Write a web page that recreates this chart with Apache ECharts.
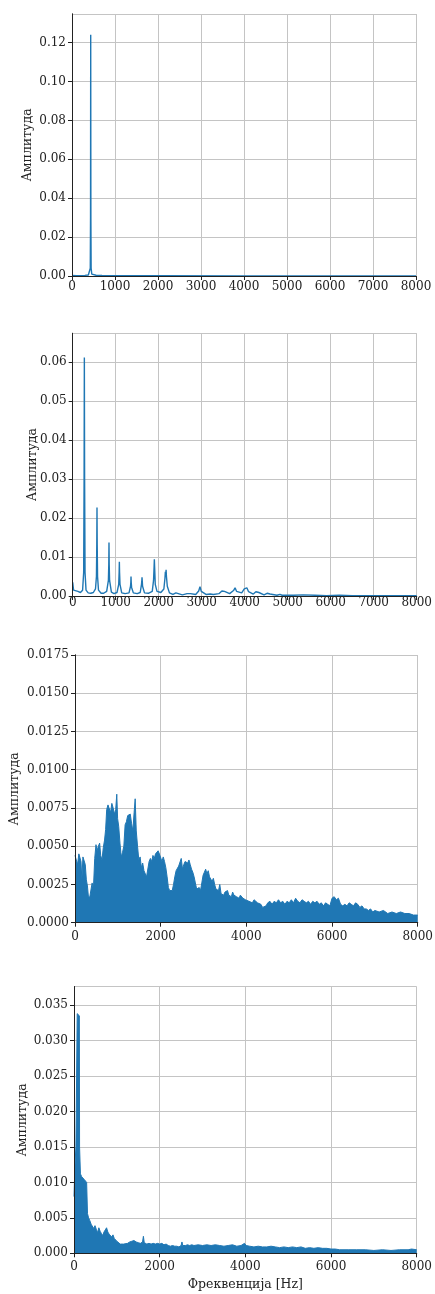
<!DOCTYPE html>
<html>
<head>
<meta charset="utf-8">
<script src="https://cdn.jsdelivr.net/npm/echarts@6/dist/echarts.min.js"></script>
<style>
  html, body { margin: 0; padding: 0; background: #ffffff; }
  #chart { width: 435px; height: 1294px; }
</style>
</head>
<body>
<div id="chart"></div>
<script>
// Spectrum 1: single pure tone
const freq1 = [0, 100, 200, 300, 380, 410, 425, 431, 435, 439, 445, 460, 490, 560, 700, 900, 1200, 2000, 4000, 8000];
const amp1  = [0.0003, 0.0002, 0.0002, 0.0003, 0.0005, 0.001, 0.004, 0.03, 0.124, 0.03, 0.004, 0.001, 0.0005, 0.0004, 0.0003, 0.0002, 0.0001, 0.0001, 0.00005, 0.00003];

// Spectrum 2: harmonic tone
const freq2 = [0, 20, 60, 120, 180, 230, 255, 265, 271, 277, 287, 310, 360, 420, 480, 530, 552, 560, 565, 570, 578, 600, 660, 720, 790, 830, 839, 844, 849, 858, 900, 960, 1030, 1070, 1080, 1085, 1090, 1100, 1140, 1220, 1310, 1345, 1352, 1356, 1361, 1370, 1410, 1500, 1570, 1600, 1608, 1612, 1617, 1625, 1670, 1760, 1850, 1880, 1893, 1899, 1905, 1920, 1960, 2050, 2120, 2145, 2155, 2162, 2172, 2180, 2200, 2250, 2330, 2400, 2420, 2440, 2550, 2660, 2700, 2740, 2860, 2930, 2960, 2990, 3100, 3200, 3230, 3270, 3400, 3470, 3500, 3530, 3650, 3740, 3776, 3810, 3930, 3990, 4020, 4050, 4090, 4200, 4260, 4295, 4330, 4450, 4520, 4550, 4590, 4750, 4820, 4870, 5050, 5093, 5140, 5360, 5400, 5630, 5900, 6200, 6500, 7000, 8000];
const amp2  = [0.0035, 0.0015, 0.0018, 0.0012, 0.0009, 0.0015, 0.006, 0.03, 0.0612, 0.03, 0.006, 0.0015, 0.0008, 0.0007, 0.0009, 0.0018, 0.005, 0.013, 0.0227, 0.013, 0.005, 0.0015, 0.0007, 0.0007, 0.0012, 0.004, 0.008, 0.0137, 0.008, 0.004, 0.001, 0.0006, 0.0009, 0.003, 0.006, 0.0088, 0.006, 0.003, 0.0008, 0.0006, 0.0008, 0.0025, 0.0035, 0.005, 0.0035, 0.0022, 0.0008, 0.0006, 0.0009, 0.003, 0.004, 0.0048, 0.004, 0.0025, 0.0008, 0.0007, 0.0012, 0.004, 0.0075, 0.0094, 0.0075, 0.003, 0.0012, 0.0009, 0.0018, 0.0045, 0.0062, 0.005, 0.0067, 0.005, 0.0025, 0.0008, 0.0004, 0.0008, 0.0011, 0.0007, 0.0003, 0.0006, 0.0011, 0.0006, 0.0004, 0.0013, 0.0024, 0.0012, 0.0004, 0.0005, 0.0007, 0.0004, 0.0006, 0.0013, 0.0017, 0.0012, 0.0006, 0.0014, 0.0021, 0.0012, 0.0008, 0.0018, 0.0015, 0.0021, 0.0011, 0.0005, 0.0011, 0.0014, 0.0009, 0.0003, 0.0007, 0.0009, 0.0005, 0.0002, 0.0004, 0.0002, 0.0002, 0.0004, 0.0002, 0.0003, 0.0001, 0.0002, 0.0001, 0.0002, 0.0001, 0.00005, 0.00005];

// Spectrum 3: broadband, upper envelope
const freq3 = [0, 30, 60, 90, 120, 140, 160, 185, 215, 240, 265, 290, 310, 340, 370, 400, 430, 460, 490, 515, 545, 575, 600, 630, 660, 690, 715, 740, 770, 800, 830, 860, 890, 920, 950, 975, 995, 1020, 1050, 1080, 1110, 1140, 1170, 1200, 1230, 1260, 1290, 1320, 1350, 1380, 1405, 1430, 1460, 1490, 1520, 1550, 1580, 1610, 1640, 1670, 1700, 1730, 1760, 1790, 1820, 1850, 1880, 1910, 1940, 1970, 2000, 2030, 2060, 2090, 2120, 2150, 2180, 2210, 2240, 2270, 2300, 2330, 2360, 2390, 2420, 2450, 2480, 2510, 2540, 2570, 2600, 2630, 2660, 2690, 2720, 2750, 2780, 2810, 2840, 2870, 2900, 2930, 2960, 2990, 3020, 3050, 3080, 3110, 3140, 3170, 3200, 3230, 3260, 3290, 3320, 3350, 3380, 3410, 3440, 3470, 3500, 3530, 3560, 3590, 3620, 3650, 3680, 3710, 3740, 3770, 3800, 3830, 3860, 3890, 3920, 3950, 3980, 4020, 4060, 4100, 4140, 4180, 4220, 4260, 4300, 4340, 4380, 4420, 4460, 4500, 4550, 4600, 4650, 4700, 4750, 4800, 4850, 4900, 4950, 5000, 5050, 5100, 5150, 5200, 5250, 5300, 5350, 5400, 5450, 5500, 5550, 5600, 5650, 5700, 5750, 5800, 5850, 5900, 5950, 6000, 6050, 6100, 6150, 6200, 6250, 6300, 6350, 6400, 6450, 6500, 6550, 6600, 6650, 6700, 6750, 6800, 6850, 6900, 6950, 7000, 7100, 7200, 7300, 7400, 7500, 7600, 7700, 7800, 7900, 8000];
const amp3  = [0.0044, 0.0043, 0.0038, 0.0045, 0.0046, 0.0040, 0.0028, 0.0043, 0.0044, 0.0038, 0.0028, 0.0024, 0.0018, 0.0016, 0.0017, 0.0026, 0.0022, 0.0042, 0.0051, 0.0047, 0.0050, 0.0052, 0.0044, 0.0041, 0.0049, 0.0054, 0.0061, 0.0074, 0.0077, 0.0078, 0.0072, 0.0078, 0.0075, 0.0071, 0.0074, 0.0084, 0.0068, 0.0063, 0.0052, 0.0043, 0.0046, 0.0050, 0.0064, 0.0066, 0.0070, 0.0069, 0.0071, 0.0065, 0.0060, 0.0072, 0.0081, 0.0060, 0.0050, 0.0041, 0.0043, 0.0036, 0.0039, 0.0034, 0.0035, 0.0030, 0.0031, 0.0040, 0.0042, 0.0040, 0.0044, 0.0042, 0.0045, 0.0046, 0.0047, 0.0045, 0.0044, 0.0040, 0.0043, 0.0040, 0.0036, 0.0030, 0.0023, 0.0021, 0.0022, 0.0021, 0.0025, 0.0030, 0.0034, 0.0033, 0.0037, 0.0036, 0.0042, 0.0035, 0.0038, 0.0040, 0.0041, 0.0039, 0.0041, 0.0038, 0.0035, 0.0033, 0.0030, 0.0026, 0.0022, 0.0021, 0.0023, 0.0021, 0.0026, 0.0031, 0.0033, 0.0035, 0.0032, 0.0034, 0.0030, 0.0031, 0.0027, 0.0029, 0.0025, 0.0022, 0.0023, 0.0021, 0.0025, 0.0019, 0.0020, 0.0018, 0.0020, 0.0019, 0.0021, 0.0018, 0.0019, 0.0017, 0.0020, 0.0018, 0.0019, 0.0017, 0.0018, 0.0016, 0.0018, 0.0017, 0.0016, 0.0017, 0.0015, 0.0016, 0.0014, 0.0015, 0.0013, 0.0015, 0.0014, 0.0013, 0.0014, 0.0012, 0.0010, 0.0009, 0.0011, 0.0013, 0.0014, 0.0012, 0.0014, 0.0013, 0.0015, 0.0013, 0.0014, 0.0012, 0.0014, 0.0013, 0.0015, 0.0013, 0.0016, 0.0014, 0.0013, 0.0015, 0.0014, 0.0013, 0.0014, 0.0012, 0.0014, 0.0013, 0.0014, 0.0012, 0.0013, 0.0011, 0.0013, 0.0012, 0.0011, 0.0016, 0.0017, 0.0015, 0.0016, 0.0012, 0.0011, 0.0012, 0.0011, 0.0013, 0.0012, 0.0011, 0.0013, 0.0012, 0.0010, 0.0011, 0.0009, 0.0009, 0.0008, 0.0009, 0.0007, 0.0008, 0.0007, 0.0008, 0.0006, 0.0007, 0.0006, 0.0007, 0.0006, 0.0006, 0.0005, 0.0005];

// Spectrum 4: low-frequency dominated, upper envelope
const freq4 = [0, 20, 45, 70, 75, 100, 125, 130, 150, 180, 210, 240, 270, 295, 315, 340, 370, 400, 430, 460, 490, 520, 550, 580, 610, 640, 670, 700, 730, 760, 790, 820, 850, 880, 910, 940, 970, 1000, 1040, 1080, 1120, 1160, 1200, 1250, 1300, 1350, 1400, 1450, 1500, 1550, 1600, 1620, 1640, 1700, 1750, 1800, 1850, 1900, 1950, 2000, 2050, 2100, 2150, 2200, 2250, 2300, 2350, 2400, 2450, 2500, 2520, 2540, 2600, 2650, 2700, 2750, 2800, 2900, 3000, 3100, 3200, 3300, 3400, 3500, 3600, 3700, 3800, 3900, 3980, 4020, 4100, 4200, 4300, 4400, 4500, 4600, 4700, 4800, 4900, 5000, 5100, 5200, 5300, 5400, 5500, 5600, 5700, 5800, 5900, 6000, 6100, 6200, 6400, 6600, 6800, 7000, 7200, 7400, 7600, 7800, 7880, 8000];
const amp4  = [0.0080, 0.0120, 0.0151, 0.0150, 0.0338, 0.0337, 0.0335, 0.0150, 0.0112, 0.0108, 0.0110, 0.0104, 0.0105, 0.0100, 0.0056, 0.0050, 0.0046, 0.0041, 0.0040, 0.0035, 0.0039, 0.0034, 0.0029, 0.0036, 0.0031, 0.0028, 0.0025, 0.0030, 0.0033, 0.0036, 0.0030, 0.0027, 0.0028, 0.0023, 0.0026, 0.0021, 0.0023, 0.0017, 0.0015, 0.0013, 0.0014, 0.0013, 0.0015, 0.0014, 0.0016, 0.0017, 0.0018, 0.0016, 0.0015, 0.0014, 0.0016, 0.0024, 0.0015, 0.0013, 0.0014, 0.0013, 0.0014, 0.0013, 0.0014, 0.0013, 0.0014, 0.0012, 0.0013, 0.0011, 0.0010, 0.0011, 0.0010, 0.0010, 0.0009, 0.0011, 0.0016, 0.0011, 0.0011, 0.0012, 0.0011, 0.0012, 0.0011, 0.0012, 0.0011, 0.0012, 0.0011, 0.0012, 0.0011, 0.0010, 0.0011, 0.0012, 0.0010, 0.0011, 0.0014, 0.0011, 0.0010, 0.0009, 0.0010, 0.0009, 0.0009, 0.0010, 0.0009, 0.0008, 0.0009, 0.0008, 0.0009, 0.0008, 0.0009, 0.0007, 0.0008, 0.0007, 0.0008, 0.0007, 0.0007, 0.0006, 0.0006, 0.0005, 0.0005, 0.0005, 0.0005, 0.0004, 0.0005, 0.0004, 0.0005, 0.0005, 0.0006, 0.0005];

const yLabel = 'Амплитуда';
const xLabel = 'Фреквенција [Hz]';

const FONT = 'DejaVu Serif';
const BLUE = '#1f77b4';
const INK = '#222222';
const GRID = '#c4c4c4';

// layout of the four panels; nameX is the centre of the rotated amplitude label
const panels = [
  { freq: freq1, amp: amp1, box: { left: 72, top: 14, width: 344, height: 262 }, xStep: 1000, yMax: 0.1347, yStep: 0.02, dec: 2, nameX: 28, xMargin: 5, fill: false, showTop: false },
  { freq: freq2, amp: amp2, box: { left: 72.7, top: 333.3, width: 344, height: 262.7 }, xStep: 1000, yMax: 0.0674, yStep: 0.01, dec: 2, nameX: 33, xMargin: 1, fill: false, showTop: false },
  { freq: freq3, amp: amp3, box: { left: 75, top: 655, width: 342.7, height: 267.7 }, xStep: 2000, yMax: 0.0175, yStep: 0.0025, dec: 4, nameX: 15, xMargin: 8, fill: true, showTop: true },
  { freq: freq4, amp: amp4, box: { left: 74, top: 986.7, width: 342.7, height: 266.6 }, xStep: 2000, yMax: 0.0376, yStep: 0.005, dec: 3, nameX: 23, xMargin: 8, fill: true, showTop: false, xName: xLabel }
];

const grid = [], xAxis = [], yAxis = [], series = [], graphic = [];
const labelStyle = { fontFamily: FONT, fontSize: 12, color: INK };
const lineOn = { show: true, lineStyle: { color: INK, width: 1 } };

panels.forEach((p, i) => {
  grid.push({
    left: p.box.left, top: p.box.top, width: p.box.width, height: p.box.height,
    containLabel: false, outerBoundsMode: 'none'
  });
  const xBase = { type: 'value', gridIndex: i, min: 0, max: 8000, interval: p.xStep };
  const yBase = { type: 'value', gridIndex: i, min: 0, max: p.yMax, interval: p.yStep };
  const off = { axisLine: { show: false }, axisTick: { show: false }, axisLabel: { show: false } };

  // grid lines under the data
  xAxis.push(Object.assign({}, xBase, off, { position: 'bottom', splitLine: { show: true, lineStyle: { color: GRID, width: 1 } } }));
  yAxis.push(Object.assign({}, yBase, off, { position: 'left', splitLine: { show: true, lineStyle: { color: GRID, width: 1 } } }));

  // frame, ticks and labels above the data
  xAxis.push(Object.assign({}, xBase, {
    position: 'bottom', z: 10, splitLine: { show: false },
    axisLine: lineOn,
    axisTick: { show: true, inside: false, length: 4, lineStyle: { color: INK, width: 1 } },
    axisLabel: Object.assign({}, labelStyle, { margin: p.xMargin, formatter: v => String(v) }),
    name: p.xName || '', nameLocation: 'middle', nameGap: 25,
    nameTextStyle: { fontFamily: FONT, fontSize: 12.5, color: INK }
  }));
  yAxis.push(Object.assign({}, yBase, {
    position: 'left', z: 10, splitLine: { show: false },
    axisLine: lineOn,
    axisTick: { show: true, inside: false, length: 4, lineStyle: { color: INK, width: 1 } },
    axisLabel: Object.assign({}, labelStyle, { margin: 6, showMaxLabel: p.showTop, formatter: v => v.toFixed(p.dec) })
  }));

  // top and right edges of the frame
  xAxis.push(Object.assign({}, xBase, off, { position: 'top', z: 10, axisLine: lineOn, splitLine: { show: false } }));
  yAxis.push(Object.assign({}, yBase, off, { position: 'right', z: 10, axisLine: lineOn, splitLine: { show: false } }));

  // rotated amplitude label, centred on the plot height
  graphic.push({
    type: 'text',
    x: p.nameX,
    y: p.box.top + p.box.height / 2,
    rotation: Math.PI / 2,
    style: {
      text: yLabel, fontFamily: FONT, fontSize: 12.5, fill: INK,
      align: 'center', verticalAlign: 'middle'
    }
  });

  const s = {
    type: 'line',
    xAxisIndex: i * 3,
    yAxisIndex: i * 3,
    data: p.freq.map((f, k) => [f, p.amp[k]]),
    showSymbol: false,
    symbol: 'none',
    animation: false,
    lineStyle: { color: BLUE, width: p.fill ? 1 : 1.4 },
    itemStyle: { color: BLUE }
  };
  if (p.fill) s.areaStyle = { color: BLUE, opacity: 1, origin: 'start' };
  series.push(s);
});

const chart = echarts.init(document.getElementById('chart'), null, { renderer: 'canvas' });
chart.setOption({
  animation: false,
  backgroundColor: '#ffffff',
  grid, xAxis, yAxis, series, graphic
});
</script>
</body>
</html>
